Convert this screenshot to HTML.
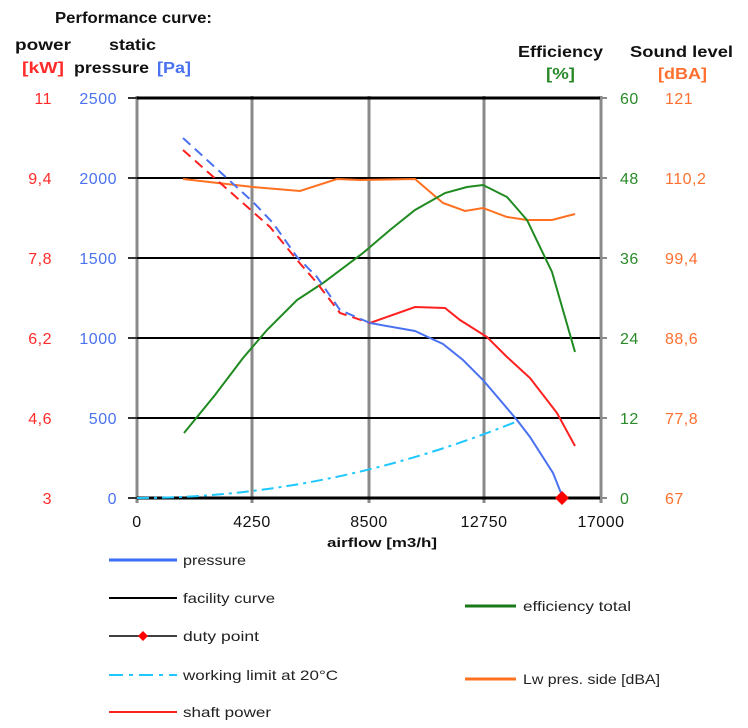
<!DOCTYPE html>
<html><head><meta charset="utf-8">
<style>
html,body{margin:0;padding:0;background:#fff;}
svg{display:block;font-family:"Liberation Sans",sans-serif;}
</style></head>
<body>
<svg width="748" height="728" viewBox="0 0 748 728" xmlns="http://www.w3.org/2000/svg">
<rect width="748" height="728" fill="#fff"/>
<!-- headers -->
<g font-weight="bold" font-size="16" fill="#111">
<text x="55" y="23" textLength="157" lengthAdjust="spacingAndGlyphs">Performance curve:</text>
<text x="15" y="50" textLength="56" lengthAdjust="spacingAndGlyphs">power</text>
<text x="109" y="50" textLength="47" lengthAdjust="spacingAndGlyphs">static</text>
<text x="22" y="73" fill="#ff2a2a" textLength="42" lengthAdjust="spacingAndGlyphs">[kW]</text>
<text x="74" y="73" textLength="75" lengthAdjust="spacingAndGlyphs">pressure</text>
<text x="157" y="73" fill="#4a72f0" textLength="34" lengthAdjust="spacingAndGlyphs">[Pa]</text>
<text x="518" y="57" textLength="85" lengthAdjust="spacingAndGlyphs">Efficiency</text>
<text x="546" y="79" fill="#2a8a2a" textLength="29" lengthAdjust="spacingAndGlyphs">[%]</text>
<text x="630" y="57" textLength="103" lengthAdjust="spacingAndGlyphs">Sound level</text>
<text x="658" y="79" fill="#ff7030" textLength="49" lengthAdjust="spacingAndGlyphs">[dBA]</text>
</g>
<!-- vertical gridlines -->
<g stroke="#8a8a8a" stroke-width="3">
<line x1="137" y1="96" x2="137" y2="503"/>
<line x1="252" y1="96" x2="252" y2="503"/>
<line x1="369" y1="96" x2="369" y2="503"/>
<line x1="484" y1="96" x2="484" y2="503"/>
<line x1="601" y1="96" x2="601" y2="503"/>
</g>
<!-- horizontal gridlines -->
<g stroke="#000">
<line x1="137" y1="98" x2="600" y2="98" stroke-width="3"/>
<line x1="137" y1="178" x2="600" y2="178" stroke-width="2"/>
<line x1="137" y1="258" x2="600" y2="258" stroke-width="2"/>
<line x1="137" y1="338" x2="600" y2="338" stroke-width="2"/>
<line x1="137" y1="418" x2="600" y2="418" stroke-width="2"/>
<line x1="137" y1="498" x2="600" y2="498" stroke-width="3"/>
</g>
<!-- ticks -->
<g stroke="#333" stroke-width="2">
<line x1="128" y1="98" x2="137" y2="98"/><line x1="128" y1="178" x2="137" y2="178"/>
<line x1="128" y1="258" x2="137" y2="258"/><line x1="128" y1="338" x2="137" y2="338"/>
<line x1="128" y1="418" x2="137" y2="418"/><line x1="128" y1="498" x2="137" y2="498"/>
</g>
<g stroke="#8a8a8a" stroke-width="2">
<line x1="601" y1="98" x2="607" y2="98"/><line x1="601" y1="178" x2="607" y2="178"/>
<line x1="601" y1="258" x2="607" y2="258"/><line x1="601" y1="338" x2="607" y2="338"/>
<line x1="601" y1="418" x2="607" y2="418"/><line x1="601" y1="498" x2="607" y2="498"/>
</g>
<!-- left tick labels -->
<g font-size="16" text-anchor="end" letter-spacing="0.5">
<g fill="#ff2a2a">
<text x="52" y="104">11</text><text x="52" y="184">9,4</text><text x="52" y="264">7,8</text>
<text x="52" y="344">6,2</text><text x="52" y="424">4,6</text><text x="52" y="504">3</text>
</g>
<g fill="#4a72f0">
<text x="117" y="104">2500</text><text x="117" y="184">2000</text><text x="117" y="264">1500</text>
<text x="117" y="344">1000</text><text x="117" y="424">500</text><text x="117" y="504">0</text>
</g>
</g>
<!-- right tick labels -->
<g font-size="16" letter-spacing="0.5">
<g fill="#2a8a2a">
<text x="620" y="104">60</text><text x="620" y="184">48</text><text x="620" y="264">36</text>
<text x="620" y="344">24</text><text x="620" y="424">12</text><text x="620" y="504">0</text>
</g>
<g fill="#ff7030">
<text x="665" y="104">121</text><text x="665" y="184">110,2</text><text x="665" y="264">99,4</text>
<text x="665" y="344">88,6</text><text x="665" y="424">77,8</text><text x="665" y="504">67</text>
</g>
</g>
<!-- x labels -->
<g font-size="16" text-anchor="middle" fill="#111" letter-spacing="0.5">
<text x="137" y="527">0</text><text x="252" y="527">4250</text><text x="369" y="527">8500</text>
<text x="484" y="527">12750</text><text x="601" y="527">17000</text>
</g>
<text x="327" y="547" font-size="13" font-weight="bold" fill="#111" textLength="110" lengthAdjust="spacingAndGlyphs">airflow  [m3/h]</text>

<!-- curves -->
<!-- facility near origin -->
<line x1="137" y1="498" x2="192" y2="498" stroke="#000" stroke-width="2" stroke-dasharray="6,4"/>
<!-- working limit -->
<path d="M137,498 Q327.5,498 518,421" fill="none" stroke="#1ec8ff" stroke-width="2" stroke-dasharray="12,5,3,5"/>
<!-- orange -->
<polyline points="183,179 253,187 300,191 337,179 360,180 415,179 443,203 465,211 483,208 507,217 527,220 552,220 575,214" fill="none" stroke="#ff7020" stroke-width="2"/>
<!-- green -->
<polyline points="184,433 215,395 243,358 267,330 297,300 323,283 363,253 390,230 415,210 445,193 467,187 483,185 507,197 527,220 552,272 575,352" fill="none" stroke="#1f8a1f" stroke-width="2"/>
<!-- red dashed + solid -->
<polyline points="183,150 253,212 270,227 297,260 317,283 340,313 370,323" fill="none" stroke="#ff2020" stroke-width="2" stroke-dasharray="10,6"/>
<polyline points="370,323 415,307 445,308 460,320 487,337 507,357 530,378 557,413 575,446" fill="none" stroke="#ff2020" stroke-width="2"/>
<!-- blue dashed + solid -->
<polyline points="183,138 253,202 273,223 297,257 317,277 340,310 370,323" fill="none" stroke="#4a72f0" stroke-width="2" stroke-dasharray="10,6"/>
<polyline points="370,323 415,331 430,338 443,344 463,360 483,380 517,420 530,437 553,473 563,498" fill="none" stroke="#4a72f0" stroke-width="2"/>
<!-- duty point -->
<polygon points="562,491 569,498 562,505 555,498" fill="#ff0000"/>

<!-- legend -->
<g font-size="14" fill="#222">
<line x1="109" y1="560" x2="177" y2="560" stroke="#3a6cf5" stroke-width="3"/>
<text x="183" y="565" textLength="63" lengthAdjust="spacingAndGlyphs">pressure</text>
<line x1="109" y1="598" x2="177" y2="598" stroke="#000" stroke-width="2"/>
<text x="183" y="603" textLength="92" lengthAdjust="spacingAndGlyphs">facility curve</text>
<line x1="109" y1="636" x2="177" y2="636" stroke="#000" stroke-width="1.5"/>
<polygon points="143,631 148,636 143,641 138,636" fill="#ff0000"/>
<text x="183" y="641" textLength="76" lengthAdjust="spacingAndGlyphs">duty point</text>
<line x1="109" y1="675" x2="177" y2="675" stroke="#1ec8ff" stroke-width="2" stroke-dasharray="14,6,4,6"/>
<text x="183" y="680" textLength="155" lengthAdjust="spacingAndGlyphs">working limit at 20°C</text>
<line x1="109" y1="712" x2="177" y2="712" stroke="#ff2020" stroke-width="2"/>
<text x="183" y="717" textLength="88" lengthAdjust="spacingAndGlyphs">shaft power</text>
<line x1="465" y1="606" x2="516" y2="606" stroke="#1a7a1a" stroke-width="3"/>
<text x="523" y="611" textLength="108" lengthAdjust="spacingAndGlyphs">efficiency total</text>
<line x1="465" y1="679" x2="516" y2="679" stroke="#ff7020" stroke-width="3"/>
<text x="523" y="684" textLength="137" lengthAdjust="spacingAndGlyphs">Lw pres. side [dBA]</text>
</g>
</svg>
</body></html>
